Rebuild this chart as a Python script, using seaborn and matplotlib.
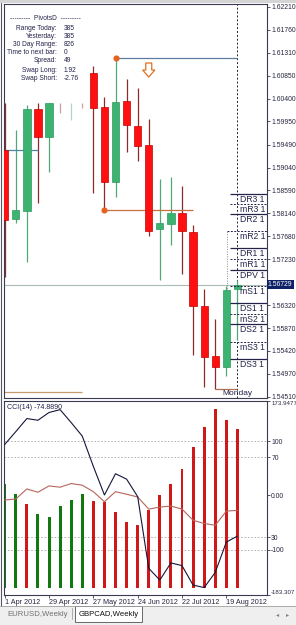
import matplotlib
matplotlib.use("Agg")
import matplotlib.pyplot as plt
from matplotlib.patches import Rectangle, Polygon
from matplotlib.lines import Line2D
import seaborn as sns
import numpy as np
import pandas as pd

# ---------------- data ----------------
weeks = ["1 Apr 2012", "8 Apr 2012", "15 Apr 2012", "22 Apr 2012", "29 Apr 2012",
         "6 May 2012", "13 May 2012", "20 May 2012", "27 May 2012", "3 Jun 2012",
         "10 Jun 2012", "17 Jun 2012", "24 Jun 2012", "1 Jul 2012", "8 Jul 2012",
         "15 Jul 2012", "22 Jul 2012", "29 Jul 2012", "5 Aug 2012", "12 Aug 2012",
         "19 Aug 2012", "26 Aug 2012"]
opens = [1.59387, 1.58024, 1.58182, 1.60196, 1.59643, 1.60315, 1.60312, 1.60315,
         1.60907, 1.60236, 1.58755, 1.60354, 1.59860, 1.59485, 1.57827, 1.57926,
         1.58143, 1.57768, 1.56307, 1.55319, 1.55102, 1.56642]
highs = [1.60315, 1.59781, 1.60275, 1.60315, 1.60315, 1.60315, 1.60315, 1.60315,
         1.61045, 1.60433, 1.61203, 1.60788, 1.60611, 1.59999, 1.58814, 1.58854,
         1.58676, 1.57906, 1.56642, 1.56050, 1.56701, 1.56820]
lows = [1.56879, 1.57945, 1.57175, 1.58340, 1.58952, 1.60117, 1.59979, 1.60216,
        1.58538, 1.58202, 1.58459, 1.59347, 1.59169, 1.57689, 1.56820, 1.57511,
        1.56938, 1.55339, 1.54707, 1.54668, 1.54924, 1.55635]
closes = [1.58004, 1.58202, 1.60196, 1.59643, 1.60315, 1.60312, 1.60315, 1.60312,
          1.60216, 1.58755, 1.60334, 1.59880, 1.59466, 1.57787, 1.57945, 1.58143,
          1.57787, 1.56307, 1.55300, 1.55102, 1.56622, 1.56729]

price_ticks = [1.62210, 1.61760, 1.61310, 1.60850, 1.60400, 1.59950, 1.59490, 1.59040,
               1.58590, 1.58140, 1.57680, 1.57230, 1.56320, 1.55870, 1.55420, 1.54970,
               1.54510]
current_price = 1.56729

pivot_names = ["DR3", "mR3", "DR2", "mR2", "DR1", "mR1", "DPV",
               "mS1", "DS1", "mS2", "DS2", "mS3", "DS3"]
pivot_values = [1.58518, 1.58321, 1.58123, 1.57787, 1.57452, 1.57235, 1.57017,
                1.56692, 1.56366, 1.56149, 1.55951, 1.55596, 1.55260]

info_labels = ["Range Today:", "Yesterday:", "30 Day Range:", "Time to next bar:",
               "Spread:", "Swap Long:", "Swap Short:"]
info_values = ["385", "385", "826", "0", "49", "1.92", "-2.76"]

trend_prices = [1.61203, 1.58202, 1.59387, 1.54609, 1.54668]
trend_start = [10, 9, 0, 0, 19]
trend_end = [21, 17, 3, 7, 21]
swing_high_index = 10
swing_low_index = 9
signal_index = 13
signal_price = 1.61104

cci = [93.9, 117.5, 141.6, 138.5, 152.8, 158.0, 134.2, 109.3, 53.5, 0.9, 40.0,
       30.1, -2.2, -134.2, -155.8, -124.2, -129.2, -165.1, -169.6, -141.7, -85.9,
       -74.889]
cci_signal = [-8.4, -6.5, 12.0, 5.9, 17.6, 15.2, 21.9, 18.9, 7.0, -11.5, 7.0, 2.2,
              -2.8, -25.1, -21.4, -19.5, -25.1, -45.6, -51.7, -54.9, -28.8, -27.5]
hist = [20.8, 2.8, -15.8, -33.8, -40.0, -19.5, -8.4, 2.2, -10.2, -11.5, -31.2,
        -48.7, -53.6, -27.5, 0.9, 20.8, 49.2, 88.8, 126.0, 158.9, 138.5, 122.3]
hist_up = [1, 1, 0, 1, 1, 1, 1, 1, 0, 0, 0, 0, 0, 0, 0, 0, 0, 0, 0, 0, 0, 0]
hist_base = -170.0
cci_max = 173.9477
cci_min = -183.307
cci_levels = [100, 70, -77, -100]
cci_ticks = [173.9477, 100, 70, 0, -77, -100, -183.307]
cci_tick_labels = ["173.9477", "100", "70", "0.00", "30", "-100", "-183.307"]
date_tick_index = [0, 4, 8, 12, 16, 20]

# ---------------- style ----------------
sns.set_theme(style="white")
plt.rcParams['font.family'] = ['Liberation Sans', 'DejaVu Sans']

W, H = 296, 625
fig = plt.figure(figsize=(W / 100, H / 100), dpi=100)
fig.patch.set_facecolor('white')


def fr(l, t, r, b):
    return [l / W, 1 - b / H, (r - l) / W, (b - t) / H]


NAVY = '#22224a'
SPINE = '#3a3a55'
XL = (-0.108, 23.67)
PX = 0.00019744  # price per pixel
AXFS = 4.9

ax = fig.add_axes(fr(3.5, 4, 267, 398))
ax2 = fig.add_axes(fr(3.5, 401, 267, 595))

for a in (ax, ax2):
    a.set_facecolor('white')
    a.set_xlim(*XL)
    for s in a.spines.values():
        s.set_color(SPINE)
        s.set_linewidth(0.8)

# ---------------- main chart ----------------
ax.set_ylim(1.54490, 1.62269)
n = len(weeks)
x = np.arange(n)
o = np.array(opens); c = np.array(closes); hi = np.array(highs); lo = np.array(lows)
up = c >= o
body_lo = np.minimum(o, c)
body_h = np.abs(c - o)
faint = body_h < 0.0001

wick_col = np.where(up, '#4fa877', '#8e2a2a')
for i in range(n):
    ax.vlines(x[i], lo[i], hi[i], colors=wick_col[i], lw=0.9,
              alpha=0.45 if faint[i] else 1.0, zorder=2)
m = ~faint
ax.bar(x[m], body_h[m], bottom=body_lo[m], width=0.66,
       color=np.where(up[m], '#3cb371', '#ff1010'),
       edgecolor=np.where(up[m], '#2e9a5e', '#c80000'), linewidth=0.5, zorder=3)

# current price line
ax.axhline(current_price, color='#a9bcb0', lw=0.8, zorder=1)

# trend / swing lines
trend_colors = ['#5a7fa0', '#c8703c', '#4a88a8', '#c89a70', '#b07050']
for p, s0, s1, col in zip(trend_prices, trend_start, trend_end, trend_colors):
    ax.hlines(p, s0 if s0 > 0 else XL[0] + 0.05, s1, colors=col, lw=0.9, zorder=2)
ax.plot([swing_high_index], [highs[swing_high_index]], 'o', color='#e8601c', ms=3.4, zorder=5)
ax.plot([swing_low_index], [lows[swing_low_index]], 'o', color='#e8601c', ms=3.4, zorder=5)

# hollow down arrow signal
sw, hw = 0.27, 0.55
top = signal_price
mid = signal_price - 7 * PX
bot = signal_price - 14 * PX
xs = signal_index
verts = [(xs - sw, top), (xs + sw, top), (xs + sw, mid), (xs + hw, mid), (xs, bot),
         (xs - hw, mid), (xs - sw, mid)]
ax.add_patch(Polygon(verts, closed=True, facecolor='white', edgecolor='#e07020', lw=0.9, zorder=5))

# current bar separator
ax.axvline(n - 1, color='#202030', lw=0.7, ls=(0, (2, 2)), zorder=1)
# dotted day box
ax.vlines(20.06, pivot_values[8], pivot_values[3], colors='#8a8a8a', lw=0.7,
          linestyles=(0, (1, 1.5)), zorder=1)

# pivot levels (labels are cut by the price scale, as in the terminal)
for name, val in zip(pivot_names, pivot_values):
    dashed = name.startswith('m')
    start = 20.06 if name == 'mR2' else 20.33
    ax.hlines(val, start, XL[1], colors=NAVY, lw=0.7 if dashed else 0.9,
              linestyles=(0, (2, 1.5)) if dashed else 'solid', zorder=4)
    visible = f"{name} {val:.4f}"[:5]
    t = ax.text(21.2, val - 1 * PX, visible, ha='left', va='top',
                fontsize=6.2, color=NAVY, clip_on=True, zorder=6)

ax.text(n - 1, 1.54490 + 0.5 * PX, "Monday", ha='center', va='bottom',
        fontsize=6, color=NAVY, zorder=6)

# axis ticks
ax.set_xticks([])
ax.yaxis.tick_right()
ax.set_yticks(price_ticks)
ax.set_yticklabels([f"{v:.5f}" for v in price_ticks])
ax.tick_params(axis='y', right=True, length=2, width=0.6, color=SPINE, pad=1.0,
               labelsize=AXFS, labelcolor='#262640')
ax.text(1.003, current_price, f"{current_price:.5f}", transform=ax.get_yaxis_transform(),
        ha='left', va='center', fontsize=AXFS, color='white', clip_on=False,
        bbox=dict(facecolor='#0e2166', edgecolor='none', pad=0.9), zorder=10)

# info panel
IFS = 4.8
fig.text(45 / W, 1 - 19 / H, "---------  PivotsD  ---------", ha='center', va='center',
         fontsize=IFS, color=NAVY)
ys = [28, 36, 44, 53, 61, 70, 78]
for lab, val, yy in zip(info_labels, info_values, ys):
    fig.text(57 / W, 1 - yy / H, lab, ha='right', va='center', fontsize=IFS, color=NAVY)
    fig.text(64 / W, 1 - yy / H, val, ha='left', va='center', fontsize=IFS, color=NAVY)

# ---------------- indicator ----------------
ax2.set_ylim(cci_min, cci_max)
hv = np.array(hist)
ax2.bar(x, hv - hist_base, bottom=hist_base, width=0.27,
        color=['#107a10' if u else '#d01818' for u in hist_up], linewidth=0, zorder=2)
for lv in cci_levels:
    ax2.axhline(lv, color='#a8a8a8', lw=0.6, ls=(0, (2, 2)), zorder=1)
df = pd.DataFrame({"x": x, "cci": cci, "sig": cci_signal})
sns.lineplot(data=df, x="x", y="sig", ax=ax2, color='#b5655c', lw=0.8, zorder=3)
sns.lineplot(data=df, x="x", y="cci", ax=ax2, color='#15153a', lw=0.8, zorder=4)
ax2.set_xlim(*XL)
ax2.set_xlabel("")
ax2.set_ylabel("")
ax2.text(0.012, 0.985, f"CCI(14) {cci[-1]:.4f}", transform=ax2.transAxes, ha='left',
         va='top', fontsize=5.1, color=NAVY)

ax2.yaxis.tick_right()
ax2.set_yticks(cci_ticks)
ax2.set_yticklabels(cci_tick_labels)
ax2.tick_params(axis='y', right=True, length=2, width=0.6, color=SPINE, pad=1.0,
                labelsize=AXFS, labelcolor='#262640')
tl = ax2.get_yticklabels()
tl[0].set_va('top')
tl[-1].set_va('bottom')
tl[0].set_fontsize(4.4)
tl[-1].set_fontsize(4.4)

ax2.set_xticks(date_tick_index)
ax2.set_xticklabels([weeks[i] for i in date_tick_index], ha='left')
ax2.tick_params(axis='x', bottom=True, length=2, width=0.6, color=SPINE, pad=1.2,
                labelsize=5.2, labelcolor='#262640')

# ---------------- window chrome ----------------
fig.add_artist(Rectangle((0, 1 - 3 / H), 1, 3 / H, transform=fig.transFigure,
                         facecolor='#d4d4d4', edgecolor='none'))
fig.add_artist(Line2D([1.2 / W, 1.2 / W], [1 - 3 / H, 1 - 606 / H], transform=fig.transFigure,
                      color='#555566', lw=0.8))
fig.add_artist(Rectangle((0, 0), 1, 19 / H, transform=fig.transFigure,
                         facecolor='#efefef', edgecolor='none'))
fig.add_artist(Line2D([0, 1], [19 / H, 19 / H], transform=fig.transFigure,
                      color='#a0a0a0', lw=0.6))
fig.add_artist(Rectangle((75 / W, 3 / H), 67 / W, 16 / H, transform=fig.transFigure,
                         facecolor='white', edgecolor='#505050', lw=0.6))
fig.add_artist(Line2D([72 / W, 72 / W], [6 / H, 17 / H], transform=fig.transFigure,
                      color='#a0a0a0', lw=0.6))
fig.text(38 / W, 10.5 / H, "EURUSD,Weekly", ha='center', va='center', fontsize=5.6,
         color='#707070')
fig.text(108.5 / W, 10.5 / H, "GBPCAD,Weekly", ha='center', va='center', fontsize=5.6,
         color='#101010')
fig.text(278 / W, 10.5 / H, "◂", ha='center', va='center', fontsize=4.5, color='#808080',
         family=['DejaVu Sans'])
fig.text(288 / W, 10.5 / H, "▸", ha='center', va='center', fontsize=4.5, color='#808080',
         family=['DejaVu Sans'])

fig.savefig("out.png", dpi=100, facecolor='white')
